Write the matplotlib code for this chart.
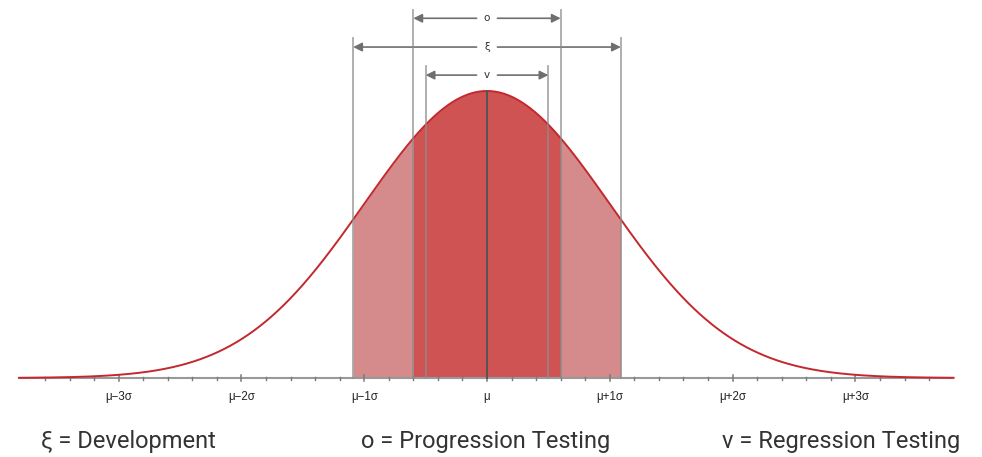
import numpy as np
import matplotlib
matplotlib.use("Agg")
import matplotlib.pyplot as plt

# chart values (x in units of sigma)
tick_pos = [-3, -2, -1, 0, 1, 2, 3]
tick_labels = ["μ−3σ", "μ−2σ", "μ−1σ", "μ", "μ+1σ", "μ+2σ", "μ+3σ"]
band_names = ["o", "ξ", "v"]
band_half = [0.6, 1.09, 0.5]
legend_text = ["ξ = Development", "o = Progression Testing", "v = Regression Testing"]
legend_x = [0.042, 0.368, 0.735]

# arrow heights and line tops (density units)
arrow_y = [0.500, 0.460, 0.421]
line_top = [0.512, 0.473, 0.434]

CURVE = "#c3282d"
DARK = "#cf5353"
LIGHT = "#d58b8b"


def pdf(x):
    return np.exp(-x ** 2 / 2) / np.sqrt(2 * np.pi)


def main():
    fig = plt.figure(figsize=(9.82, 4.57), dpi=100)
    ax = fig.add_axes([0, 0, 1, 1])
    ax.set_xlim(-3.966, 4.031)
    ax.set_ylim(-0.1098, 0.5254)
    ax.axis("off")

    xs = np.linspace(-3.81, 3.80, 800)

    # fills
    half_xi = band_half[1]
    half_o = band_half[0]
    xl = np.linspace(-half_xi, half_xi, 400)
    ax.fill_between(xl, 0, pdf(xl), color=LIGHT, lw=0, zorder=1)
    xd = np.linspace(-half_o, half_o, 400)
    ax.fill_between(xd, 0, pdf(xd), color=DARK, lw=0, zorder=2)

    # curve
    ax.plot(xs, pdf(xs), color=CURVE, lw=1.4, zorder=4)

    # axis line and ticks
    ax.plot([-3.81, 3.79], [0, 0], color="#999999", lw=1.5, zorder=3)
    minor = np.round(np.arange(-3.6, 3.61, 0.2), 1)
    for m in minor:
        if np.isclose(m, round(m)):
            ax.plot([m, m], [-0.0045, 0.0035], color="#7a7a7a", lw=1.1, zorder=3)
        else:
            ax.plot([m, m], [-0.003, 0.002], color="#7a7a7a", lw=1.0, zorder=3)
    for p, lab in zip(tick_pos, tick_labels):
        ax.text(p, -0.026, lab, ha="center", va="center", fontsize=8.3,
                family="Liberation Sans", color="#222222")

    # center line
    ax.plot([0, 0], [0, pdf(0)], color="#555555", lw=1.4, zorder=5)

    # vertical band lines and arrows
    for name, h, ay, top in zip(band_names, band_half, arrow_y, line_top):
        for s in (-1, 1):
            ax.plot([s * h, s * h], [0, top], color="#8c8c8c", lw=1.3, alpha=0.75, zorder=5)
            ax.annotate("", xy=(s * h, ay), xytext=(s * 0.085, ay),
                        arrowprops=dict(arrowstyle="-|>", color="#6f6f6f", lw=1.2,
                                        mutation_scale=13, shrinkA=0, shrinkB=0))
        ax.text(0, ay, name, ha="center", va="center", fontsize=7.5,
                family="DejaVu Sans", color="#333333")

    for t, x in zip(legend_text, legend_x):
        fig.text(x, 0.035, t, ha="left", va="center", fontsize=17,
                 family="Roboto", color="#333333")

    fig.savefig("out.png", dpi=100)


if __name__ == "__main__":
    main()
